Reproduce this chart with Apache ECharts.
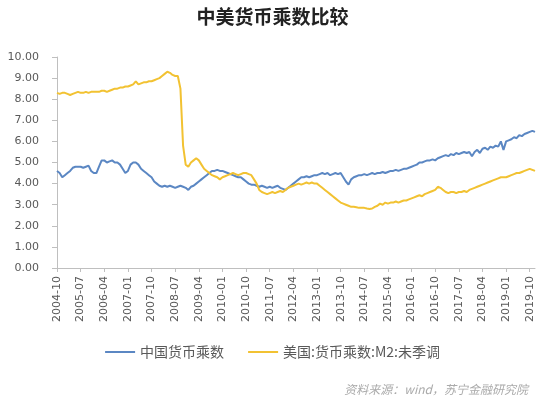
<!DOCTYPE html>
<html>
<head>
<meta charset="utf-8">
<script src="https://cdn.jsdelivr.net/npm/echarts@6/dist/echarts.min.js"></script>
<style>
  html, body { margin: 0; padding: 0; background: #fff; }
  #chart { width: 545px; height: 402px; }
</style>
</head>
<body>
<div id="chart"></div>
<script>
// 月份：2004-10 到 2019-12
var months = [];
for (var y = 2004; y <= 2019; y++) {
  for (var m = 1; m <= 12; m++) {
    if (y === 2004 && m < 10) continue;
    months.push(y + '-' + (m < 10 ? '0' + m : m));
  }
}

// 中国货币乘数
var chinaMul = [
  4.6, 4.5, 4.3,
  4.4, 4.5, 4.6, 4.75, 4.8, 4.8, 4.8, 4.75, 4.8, 4.85, 4.6, 4.5,
  4.5, 4.8, 5.1, 5.1, 5.0, 5.05, 5.1, 5.0, 5.0, 4.9, 4.7, 4.5,
  4.6, 4.9, 5.0, 5.0, 4.9, 4.7, 4.6, 4.5, 4.4, 4.3, 4.1, 4.0,
  3.9, 3.85, 3.9, 3.85, 3.9, 3.85, 3.8, 3.85, 3.9, 3.85, 3.8, 3.7,
  3.85, 3.9, 4.0, 4.1, 4.2, 4.3, 4.4, 4.5, 4.6, 4.6, 4.65, 4.6,
  4.6, 4.55, 4.5, 4.45, 4.4, 4.35, 4.3, 4.3, 4.2, 4.1, 4.0, 3.95,
  3.95, 3.9, 3.85, 3.9, 3.85, 3.8, 3.85, 3.8, 3.85, 3.9, 3.8, 3.75,
  3.7, 3.8, 3.9, 4.0, 4.1, 4.2, 4.3, 4.3, 4.35, 4.3, 4.35, 4.4,
  4.4, 4.45, 4.5, 4.45, 4.5, 4.4, 4.45, 4.5, 4.45, 4.5, 4.3, 4.1,
  3.95, 4.2, 4.3, 4.35, 4.4, 4.4, 4.45, 4.4, 4.45, 4.5, 4.45, 4.5,
  4.5, 4.55, 4.5, 4.55, 4.6, 4.6, 4.65, 4.6, 4.65, 4.7, 4.7, 4.75,
  4.8, 4.85, 4.9, 5.0, 5.0, 5.05, 5.1, 5.1, 5.15, 5.1, 5.2, 5.25,
  5.3, 5.35, 5.3, 5.4, 5.35, 5.45, 5.4, 5.45, 5.5, 5.45, 5.5, 5.3,
  5.5, 5.6, 5.45, 5.65, 5.7, 5.6, 5.75, 5.7, 5.8, 5.75, 6.0, 5.6,
  6.0, 6.05, 6.1, 6.2, 6.15, 6.3, 6.25, 6.35, 6.4, 6.45, 6.5, 6.45
];

// 美国:货币乘数:M2:未季调
var usMul = [
  8.3, 8.25, 8.3,
  8.3, 8.25, 8.2, 8.25, 8.3, 8.35, 8.3, 8.3, 8.35, 8.3, 8.35, 8.35,
  8.35, 8.35, 8.4, 8.4, 8.35, 8.4, 8.45, 8.5, 8.5, 8.55, 8.55, 8.6,
  8.6, 8.65, 8.7, 8.85, 8.7, 8.75, 8.8, 8.8, 8.85, 8.85, 8.9, 8.95,
  9.0, 9.1, 9.2, 9.3, 9.25, 9.15, 9.1, 9.1, 8.5, 5.8, 4.9, 4.8,
  5.0, 5.1, 5.2, 5.1, 4.9, 4.7, 4.6, 4.5, 4.4, 4.35, 4.3, 4.2,
  4.3, 4.35, 4.4, 4.45, 4.5, 4.45, 4.4, 4.45, 4.5, 4.5, 4.45, 4.4,
  4.2, 4.0, 3.7, 3.6, 3.55, 3.5, 3.55, 3.6, 3.55, 3.6, 3.65, 3.6,
  3.7, 3.8, 3.85, 3.9, 3.95, 4.0, 3.95, 4.0, 4.05, 4.0, 4.05, 4.0,
  4.0, 3.9, 3.8, 3.7, 3.6, 3.5, 3.4, 3.3, 3.2, 3.1, 3.05, 3.0,
  2.95, 2.9, 2.9, 2.88, 2.85, 2.85, 2.85, 2.82, 2.8, 2.82, 2.9, 2.95,
  3.05, 3.0, 3.1, 3.05, 3.1, 3.1, 3.15, 3.1, 3.15, 3.2, 3.2, 3.25,
  3.3, 3.35, 3.4, 3.45, 3.4, 3.5, 3.55, 3.6, 3.65, 3.7, 3.85, 3.8,
  3.7, 3.6, 3.55, 3.6, 3.6, 3.55, 3.6, 3.6, 3.65, 3.6, 3.7, 3.75,
  3.8, 3.85, 3.9, 3.95, 4.0, 4.05, 4.1, 4.15, 4.2, 4.25, 4.3, 4.3,
  4.3, 4.35, 4.4, 4.45, 4.5, 4.5, 4.55, 4.6, 4.65, 4.7, 4.65, 4.6
];

var yTicks = [0, 1, 2, 3, 4, 5, 6, 7, 8, 9, 10];

var myChart = echarts.init(document.getElementById('chart'));
var option = {
  backgroundColor: '#fff',
  animation: false,
  title: {
    text: '中美货币乘数比较',
    left: 'center',
    top: 2,
    textStyle: {
      fontFamily: 'Noto Sans CJK SC',
      fontSize: 19,
      fontWeight: 'bold',
      color: '#222'
    }
  },
  legend: {
    data: ['中国货币乘数', '美国:货币乘数:M2:未季调'],
    left: 'center',
    top: 340,
    itemWidth: 30,
    itemHeight: 2,
    itemGap: 24,
    icon: 'rect',
    textStyle: {
      fontFamily: 'Noto Sans CJK SC',
      fontSize: 14,
      color: '#595959'
    }
  },
  grid: {
    left: 57,
    right: 10,
    top: 57,
    bottom: 134
  },
  xAxis: {
    type: 'category',
    data: months,
    boundaryGap: false,
    axisLine: { lineStyle: { color: '#bfbfbf', width: 1 } },
    axisTick: {
      interval: 8,
      length: 4,
      lineStyle: { color: '#bfbfbf' }
    },
    axisLabel: {
      interval: 8,
      rotate: 90,
      margin: 8,
      fontFamily: 'DejaVu Sans',
      fontSize: 11,
      color: '#595959'
    },
    splitLine: { show: false }
  },
  yAxis: {
    type: 'value',
    min: yTicks[0],
    max: yTicks[yTicks.length - 1],
    interval: 1,
    axisLine: { show: true, lineStyle: { color: '#bfbfbf', width: 1 } },
    axisTick: { show: true, length: 5, lineStyle: { color: '#bfbfbf' } },
    axisLabel: {
      margin: 18,
      fontFamily: 'DejaVu Sans',
      fontSize: 11,
      color: '#595959',
      formatter: function (v) { return v.toFixed(2); }
    },
    splitLine: { show: false }
  },
  graphic: [
    {
      type: 'text',
      right: 17,
      top: 383,
      style: {
        text: '资料来源：wind，苏宁金融研究院',
        font: 'italic 12px "Noto Sans CJK SC"',
        fill: '#aaaaaa'
      }
    }
  ],
  series: [
    {
      name: '中国货币乘数',
      type: 'line',
      data: chinaMul,
      showSymbol: false,
      color: '#5b87c3',
      lineStyle: { width: 2 }
    },
    {
      name: '美国:货币乘数:M2:未季调',
      type: 'line',
      data: usMul,
      showSymbol: false,
      color: '#f2c232',
      lineStyle: { width: 2 }
    }
  ]
};
myChart.setOption(option);
window.addEventListener('resize', function () {
  myChart.resize();
});
</script>
</body>
</html>
